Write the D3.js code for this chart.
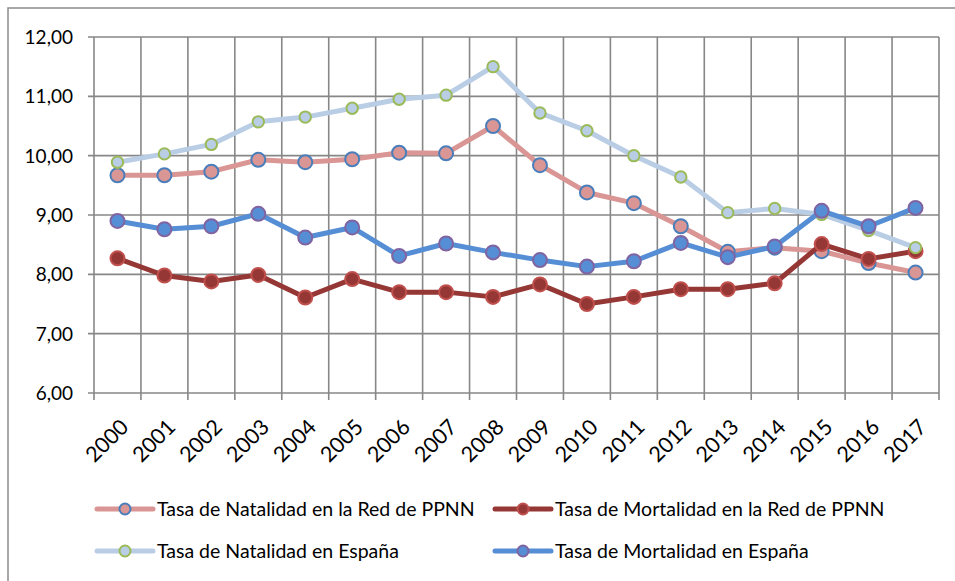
<!DOCTYPE html>
<html><head><meta charset="utf-8">
<script src="https://cdn.jsdelivr.net/npm/d3@7"></script>
<style>body{margin:0;background:#fff}svg{display:block}text{font-family:Lato,"Open Sans",sans-serif;fill:#000}</style>
</head><body><svg id="c" width="955" height="581"></svg>
<script>
const years = ["2000","2001","2002","2003","2004","2005","2006","2007","2008","2009","2010","2011","2012","2013","2014","2015","2016","2017"];
const yTicks = [6,7,8,9,10,11,12];
const natalidadRed = [9.67,9.67,9.73,9.93,9.89,9.94,10.05,10.04,10.50,9.84,9.38,9.20,8.81,8.38,8.45,8.39,8.19,8.03];
const mortalidadRed = [8.27,7.98,7.88,7.99,7.61,7.92,7.70,7.70,7.62,7.83,7.50,7.62,7.75,7.75,7.85,8.51,8.26,8.39];
const natalidadEsp = [9.89,10.03,10.19,10.57,10.65,10.80,10.95,11.02,11.50,10.72,10.42,10.00,9.64,9.04,9.11,9.01,8.74,8.45];
const mortalidadEsp = [8.90,8.76,8.81,9.02,8.62,8.79,8.31,8.52,8.37,8.24,8.13,8.22,8.53,8.29,8.47,9.07,8.81,9.12];
const seriesNames = ["Tasa de Natalidad en la Red de PPNN","Tasa de Mortalidad en la Red de PPNN","Tasa de Natalidad en España","Tasa de Mortalidad en España"];

const series = [
  {name:seriesNames[0], values:natalidadRed, line:"#D99694", fill:"#D99694", stroke:"#4A7EBB", r:7},
  {name:seriesNames[1], values:mortalidadRed, line:"#953735", fill:"#953735", stroke:"#C0504D", r:7},
  {name:seriesNames[2], values:natalidadEsp, line:"#B9CDE5", fill:"#B9CDE5", stroke:"#9BBB59", r:5.7},
  {name:seriesNames[3], values:mortalidadEsp, line:"#558ED5", fill:"#558ED5", stroke:"#8064A2", r:7}
];

const svg = d3.select("#c");
const L=94, R=939, T=37, B=393;
const grid="#878787";

svg.append("rect").attr("x",8).attr("y",8).attr("width",960).attr("height",590)
  .attr("fill","none").attr("stroke","#8c8c8c").attr("stroke-width",1.5);

const x = d3.scaleBand().domain(years).range([L,R]).paddingInner(0).paddingOuter(0);
const y = d3.scaleLinear().domain([6,12]).range([B,T]);

svg.append("g").selectAll("line").data(yTicks).join("line")
  .attr("x1",L-6).attr("x2",R).attr("y1",d=>y(d)).attr("y2",d=>y(d))
  .attr("stroke",grid).attr("stroke-width",1.6);
const vpos = years.map(d=>x(d)).concat([R]);
svg.append("g").selectAll("line").data(vpos).join("line")
  .attr("x1",d=>d).attr("x2",d=>d).attr("y1",T).attr("y2",B+7)
  .attr("stroke",grid).attr("stroke-width",1.6);

svg.append("g").selectAll("text").data(yTicks).join("text")
  .attr("x",73).attr("y",d=>y(d)).attr("dy","0.36em").attr("text-anchor","end")
  .style("font-size","19px").text(d=>d3.format(".2f")(d).replace(".",","));

svg.append("g").selectAll("text").data(years).join("text")
  .attr("transform",d=>`translate(${x(d)+x.bandwidth()/2+7},${B+30}) rotate(-45)`)
  .attr("text-anchor","end").attr("dy","0.35em")
  .style("font-size","21.5px").text(d=>d);

const cx = d=>x(d)+x.bandwidth()/2;
const line = d3.line().x((v,i)=>cx(years[i])).y(v=>y(v));
series.forEach(s=>{
  const g = svg.append("g");
  g.append("path").attr("d",line(s.values)).attr("fill","none")
    .attr("stroke",s.line).attr("stroke-width",5).attr("stroke-linejoin","round").attr("stroke-linecap","round");
  g.selectAll("circle").data(s.values).join("circle")
    .attr("cx",(v,i)=>cx(years[i])).attr("cy",v=>y(v)).attr("r",s.r)
    .attr("fill",s.fill).attr("stroke",s.stroke).attr("stroke-width",2);
});

const legPos = [[97,509],[495,509],[97,551],[495,551]];
series.forEach((s,i)=>{
  const [lx,ly]=legPos[i];
  const g = svg.append("g");
  g.append("line").attr("x1",lx).attr("x2",lx+56).attr("y1",ly).attr("y2",ly)
    .attr("stroke",s.line).attr("stroke-width",5).attr("stroke-linecap","round");
  g.append("circle").attr("cx",lx+28).attr("cy",ly).attr("r",5.5)
    .attr("fill",s.fill).attr("stroke",s.stroke).attr("stroke-width",2);
  g.append("text").attr("x",lx+60).attr("y",ly).attr("dy","0.35em")
    .style("font-size","19.5px").text(s.name);
});
</script></body></html>
